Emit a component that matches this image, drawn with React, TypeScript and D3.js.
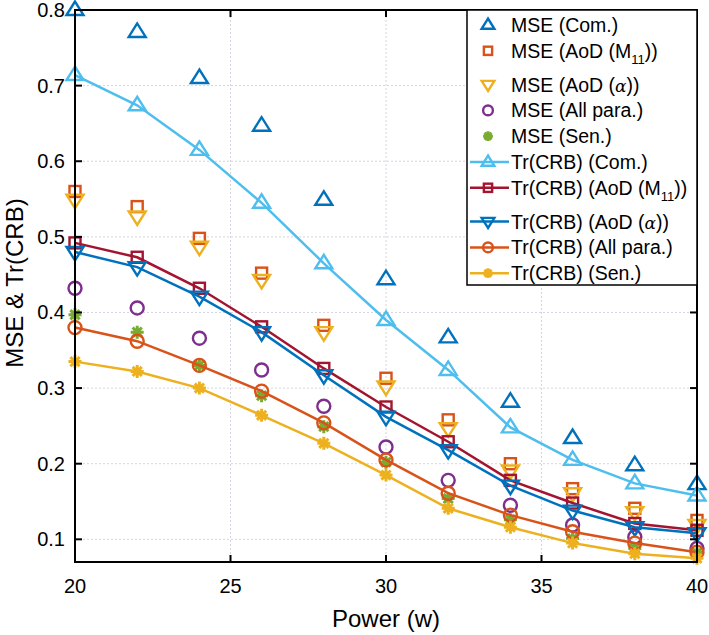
import React from 'react';
import * as d3 from 'd3';

// x values (Power, w)
const power = [20, 22, 24, 26, 28, 30, 32, 34, 36, 38, 40];

// MSE (markers only)
const mseCom = [0.800, 0.771, 0.710, 0.647, 0.549, 0.444, 0.367, 0.282, 0.234, 0.198, 0.173];
const mseAoDM = [0.560, 0.540, 0.498, 0.452, 0.383, 0.313, 0.258, 0.200, 0.167, 0.141, 0.125];
const mseAoDAlpha = [0.549, 0.527, 0.487, 0.443, 0.374, 0.302, 0.247, 0.191, 0.161, 0.136, 0.119];
const mseAll = [0.432, 0.406, 0.366, 0.324, 0.276, 0.222, 0.178, 0.145, 0.119, 0.103, 0.088];
const mseSen = [0.397, 0.374, 0.330, 0.290, 0.249, 0.202, 0.154, 0.126, 0.101, 0.088, 0.082];

// Tr(CRB) (lines + markers)
const crbCom = [0.714, 0.674, 0.615, 0.545, 0.465, 0.390, 0.324, 0.248, 0.205, 0.174, 0.158];
const crbAoDM = [0.492, 0.473, 0.432, 0.381, 0.326, 0.275, 0.229, 0.178, 0.148, 0.121, 0.112];
const crbAoDAlpha = [0.480, 0.460, 0.421, 0.374, 0.317, 0.262, 0.218, 0.171, 0.138, 0.116, 0.108];
const crbAll = [0.380, 0.362, 0.330, 0.296, 0.254, 0.205, 0.161, 0.132, 0.110, 0.095, 0.083];
const crbSen = [0.335, 0.322, 0.300, 0.264, 0.227, 0.185, 0.141, 0.116, 0.095, 0.081, 0.075];

const xTicks = [20, 25, 30, 35, 40];
const yTicks = [0.1, 0.2, 0.3, 0.4, 0.5, 0.6, 0.7, 0.8];

type Marker = 'up' | 'down' | 'square' | 'circle' | 'star';
type Series = { label: React.ReactNode; values: number[]; color: string; marker: Marker; line: boolean };

const sub11 = (pre: string) => (
  <>
    {pre}(M<tspan fontSize="13" dy="6">11</tspan><tspan dy="-6">))</tspan>
  </>
);
const alpha = (pre: string) => (
  <>
    {pre}(<tspan fontFamily="'DejaVu Serif', serif" fontStyle="italic" fontSize="17">α</tspan>))
  </>
);

const series: Series[] = [
  { label: 'MSE (Com.)', values: mseCom, color: '#0072BD', marker: 'up', line: false },
  { label: sub11('MSE (AoD '), values: mseAoDM, color: '#D95319', marker: 'square', line: false },
  { label: alpha('MSE (AoD '), values: mseAoDAlpha, color: '#EDB120', marker: 'down', line: false },
  { label: 'MSE (All para.)', values: mseAll, color: '#7E2F8E', marker: 'circle', line: false },
  { label: 'MSE (Sen.)', values: mseSen, color: '#77AC30', marker: 'star', line: false },
  { label: 'Tr(CRB) (Com.)', values: crbCom, color: '#4DBEEE', marker: 'up', line: true },
  { label: sub11('Tr(CRB) (AoD '), values: crbAoDM, color: '#A2142F', marker: 'square', line: true },
  { label: alpha('Tr(CRB) (AoD '), values: crbAoDAlpha, color: '#0072BD', marker: 'down', line: true },
  { label: 'Tr(CRB) (All para.)', values: crbAll, color: '#D95319', marker: 'circle', line: true },
  { label: 'Tr(CRB) (Sen.)', values: crbSen, color: '#EDB120', marker: 'star', line: true },
];

const W = 709;
const H = 635;
const margin = { top: 10, right: 12, bottom: 73, left: 75 };
const FONT = "'Liberation Sans', Arial, Helvetica, sans-serif";

function MarkerShape({ kind, x, y, color, s = 1 }: { kind: Marker; x: number; y: number; color: string; s?: number }) {
  const sw = 2.4;
  if (kind === 'up') {
    return <polygon points={`${x},${y - 8.5 * s} ${x - 8.5 * s},${y + 5 * s} ${x + 8.5 * s},${y + 5 * s}`} fill="none" stroke={color} strokeWidth={sw} />;
  }
  if (kind === 'down') {
    return <polygon points={`${x},${y + 8.5 * s} ${x - 8.5 * s},${y - 5 * s} ${x + 8.5 * s},${y - 5 * s}`} fill="none" stroke={color} strokeWidth={sw} />;
  }
  if (kind === 'square') {
    const h = 5.5 * s;
    return <rect x={x - h} y={y - h} width={2 * h} height={2 * h} fill="none" stroke={color} strokeWidth={sw} />;
  }
  if (kind === 'circle') {
    return <circle cx={x} cy={y} r={6.5 * s} fill="none" stroke={color} strokeWidth={sw} />;
  }
  const r = 6.5 * s;
  const d = r * 0.707;
  return (
    <path
      d={`M${x - r},${y}L${x + r},${y}M${x},${y - r}L${x},${y + r}M${x - d},${y - d}L${x + d},${y + d}M${x - d},${y + d}L${x + d},${y - d}`}
      stroke={color}
      strokeWidth={3}
      fill="none"
    />
  );
}

export default function App() {
  const x = d3.scaleLinear().domain([20, 40]).range([margin.left, W - margin.right]);
  const y = d3.scaleLinear().domain([0.07, 0.8]).range([H - margin.bottom, margin.top]);
  const line = d3.line<number>().x((_, i) => x(power[i])).y((d) => y(d));

  const x0 = x.range()[0];
  const x1 = x.range()[1];
  const y0 = y.range()[0];
  const y1 = y.range()[1];

  // legend layout
  const lgX = 467;
  const lgY = y1;
  const lgW = x1 - lgX;
  const lgH = 275;
  const rowY = (i: number) => lgY + 15 + i * 25.8 + (i >= 2 ? 8 : 0) + (i >= 7 ? 8 : 0);

  return (
    <svg width={W} height={H} style={{ position: 'absolute', left: 0, top: 0, background: '#fff' }} fontFamily={FONT}>
      <rect width={W} height={H} fill="#fff" />
      {/* grid */}
      <g stroke="#d3d4e0" strokeWidth={1} strokeDasharray="2,2">
        {xTicks.map((t) => (
          <line key={'gx' + t} x1={x(t)} x2={x(t)} y1={y0} y2={y1} />
        ))}
        {yTicks.map((t) => (
          <line key={'gy' + t} x1={x0} x2={x1} y1={y(t)} y2={y(t)} />
        ))}
      </g>

      {/* series */}
      {series.map((s, si) => (
        <g key={si}>
          {s.line && <path d={line(s.values) || ''} fill="none" stroke={s.color} strokeWidth={2.5} />}
          {s.values.map((v, i) => (
            <MarkerShape key={i} kind={s.marker} x={x(power[i])} y={y(v)} color={s.color} />
          ))}
        </g>
      ))}

      {/* axes box + ticks */}
      <rect x={x0} y={y1} width={x1 - x0} height={y0 - y1} fill="none" stroke="#000" strokeWidth={2} />
      <g stroke="#000" strokeWidth={2}>
        {xTicks.map((t) => (
          <g key={'tx' + t}>
            <line x1={x(t)} x2={x(t)} y1={y0} y2={y0 - 7} />
            <line x1={x(t)} x2={x(t)} y1={y1} y2={y1 + 7} />
          </g>
        ))}
        {yTicks.map((t) => (
          <g key={'ty' + t}>
            <line x1={x0} x2={x0 + 7} y1={y(t)} y2={y(t)} />
            <line x1={x1} x2={x1 - 7} y1={y(t)} y2={y(t)} />
          </g>
        ))}
      </g>
      <g fontSize="20" fill="#000">
        {xTicks.map((t) => (
          <text key={'lx' + t} x={x(t)} y={y0 + 31} textAnchor="middle">{t}</text>
        ))}
        {yTicks.map((t) => (
          <text key={'ly' + t} x={x0 - 10} y={y(t) + 7} textAnchor="end">{d3.format('.1f')(t)}</text>
        ))}
      </g>
      <text x={(x0 + x1) / 2} y={y0 + 65} fontSize="24" textAnchor="middle">Power (w)</text>
      <text transform={`translate(23,${(y0 + y1) / 2 - 3}) rotate(-90)`} fontSize="24" textAnchor="middle">MSE &amp; Tr(CRB)</text>

      {/* legend */}
      <rect x={lgX} y={lgY} width={lgW} height={lgH} fill="#fff" stroke="#000" strokeWidth={1.5} />
      {series.map((s, i) => {
        const ry = rowY(i);
        return (
          <g key={'lg' + i}>
            {s.line && <line x1={lgX + 3} x2={lgX + 42} y1={ry} y2={ry} stroke={s.color} strokeWidth={2.5} />}
            <MarkerShape kind={s.marker} x={lgX + 21} y={ry} color={s.color} s={0.75} />
            <text x={lgX + 44} y={ry + 7} fontSize="19.5" fill="#000">{s.label}</text>
          </g>
        );
      })}
    </svg>
  );
}
